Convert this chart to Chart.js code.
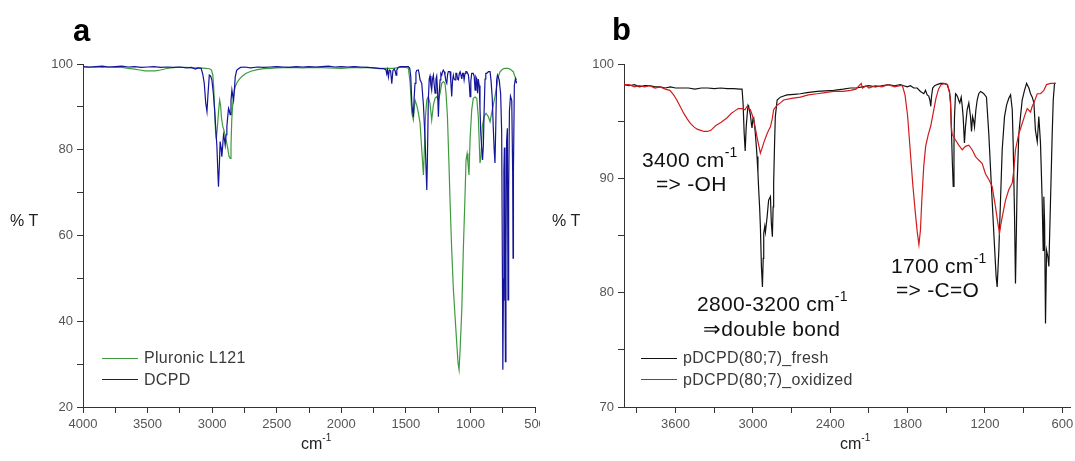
<!DOCTYPE html>
<html>
<head>
<meta charset="utf-8">
<script src="https://cdn.jsdelivr.net/npm/chart.js@4.4.1/dist/chart.umd.min.js"></script>
<style>
  html, body { margin: 0; padding: 0; background: #fff; }
  body { width: 1075px; height: 461px; position: relative; overflow: hidden;
         font-family: "Liberation Sans", Arial, sans-serif; }
  .panel { position: absolute; top: 0; height: 461px; overflow: hidden; }
  #pa { left: 0; width: 540px; }
  #pb { left: 540px; width: 535px; }
  canvas { display: block; }
  .t { position: absolute; white-space: nowrap; line-height: 1; color: #222; }
  .big { font-size: 31px; font-weight: bold; color: #000; }
  .ax { font-size: 16px; }
  .ann { font-size: 21px; color: #111; letter-spacing: 0.3px; }
  .leg { font-size: 16px; color: #3a3a3a; letter-spacing: 0.3px; }
  .sup { position: relative; font-size: 10px; top: -8px; }
  .ann .sup { font-size: 14px; top: -10px; }
  .line { position: absolute; height: 0; width: 36px; border-top: 1.2px solid; }
</style>
</head>
<body>
<div id="pa" class="panel"><canvas id="ca" width="560" height="461"></canvas></div>
<div id="pb" class="panel"><canvas id="cb" width="535" height="461"></canvas></div>

<div class="t big" style="left:73px;top:15px">a</div>
<div class="t big" style="left:612px;top:14px">b</div>
<div class="t ax" style="left:10px;top:213px">% T</div>
<div class="t ax" style="left:552px;top:213px">% T</div>
<div class="t ax" style="left:301px;top:436px">cm<span class="sup">-1</span></div>
<div class="t ax" style="left:840px;top:436px">cm<span class="sup">-1</span></div>

<div class="line" style="left:102px;top:358px;border-color:#3f9a3f"></div>
<div class="t leg" style="left:144px;top:350px">Pluronic L121</div>
<div class="line" style="left:102px;top:379px;border-color:#14149a"></div>
<div class="t leg" style="left:144px;top:372px">DCPD</div>

<div class="line" style="left:641px;top:358px;border-color:#111"></div>
<div class="t leg" style="left:683px;top:350px">pDCPD(80;7)_fresh</div>
<div class="line" style="left:641px;top:379px;border-color:#d01c1c"></div>
<div class="t leg" style="left:683px;top:372px">pDCPD(80;7)_oxidized</div>

<div class="t ann" style="left:642px;top:149px">3400 cm<span class="sup">-1</span></div>
<div class="t ann" style="left:656px;top:173px">=&gt; -OH</div>
<div class="t ann" style="left:697px;top:293px">2800-3200 cm<span class="sup">-1</span></div>
<div class="t ann" style="left:703px;top:318px">&rArr;double bond</div>
<div class="t ann" style="left:891px;top:255px">1700 cm<span class="sup">-1</span></div>
<div class="t ann" style="left:896px;top:279px">=&gt; -C=O</div>

<script>
// panel a ticks
const aXMajor = [4000, 3500, 3000, 2500, 2000, 1500, 1000, 500];
const aXMinor = [3750, 3250, 2750, 2250, 1750, 1250, 750];
const aYMajor = [20, 40, 60, 80, 100];
const aYMinor = [30, 50, 70, 90];
// panel b ticks
const bXMajor = [3600, 3000, 2400, 1800, 1200, 600];
const bXMinor = [3900, 3300, 2700, 2100, 1500, 900];
const bYMajor = [70, 80, 90, 100];
const bYMinor = [75, 85, 95];

// spectra: [wavenumber cm-1, %T]
const pluronic = [[4000,99.3],[3950,99.2],[3900,99.3],[3850,99.2],[3800,99.3],[3750,99.2],[3700,99.2],[3650,99.0],[3600,98.8],[3560,98.6],[3520,98.4],[3480,98.4],[3440,98.4],[3400,98.6],[3360,98.9],[3320,99.1],[3280,99.2],[3200,99.2],[3150,99.1],[3100,99.1],[3050,99.0],[3020,98.9],[3005,98.6],[2995,97.5],[2988,94.5],[2982,90],[2975,85],[2968,82.5],[2960,85],[2950,89],[2942,91.6],[2935,90.5],[2928,87.5],[2918,85.5],[2908,84.5],[2899,83.2],[2890,82],[2880,80.5],[2870,78.5],[2860,78],[2854,81],[2848,87],[2840,91],[2830,93.5],[2820,94.8],[2805,95.8],[2790,96.4],[2770,97.1],[2740,97.8],[2700,98.3],[2650,98.7],[2600,98.9],[2550,99.0],[2500,99.1],[2400,99.2],[2300,99.1],[2200,99.2],[2100,99.1],[2000,99.0],[1950,99.1],[1900,99.2],[1850,99.1],[1800,99.2],[1750,99.1],[1700,99.0],[1650,99.0],[1600,99.0],[1545,99.2],[1500,99.2],[1480,99.0],[1467,95.5],[1454,88.6],[1442,87.0],[1429,91.6],[1416,90.4],[1403,88.6],[1390,86.2],[1377,80.0],[1364,74.1],[1356,80.7],[1348,87.7],[1338,91.6],[1326,92.4],[1313,90.8],[1300,86.9],[1287,90.4],[1274,92.0],[1261,92.4],[1248,91.6],[1235,93.2],[1222,95.5],[1210,95.9],[1197,95.5],[1189,93.2],[1178,87.7],[1168,78.4],[1158,68.3],[1145,56.7],[1132,47.4],[1119,41.1],[1106,34.9],[1096,30.3],[1088,28.7],[1080,33.3],[1067,42.6],[1055,56.7],[1042,69.1],[1034,77.6],[1026,79.1],[1019,76.9],[1011,74.1],[1003,82.3],[990,89.3],[978,92.0],[964,92.3],[951,92.0],[939,87.7],[926,76.9],[918,78.4],[908,85.4],[895,87.7],[879,88.5],[861,87.7],[848,86.5],[836,88.5],[823,90.4],[810,92.4],[797,94.7],[784,97.0],[771,98.2],[750,98.8],[732,99.0],[710,99.0],[694,98.8],[668,98.2],[655,97.0],[642,96.3]];

const dcpd = [[4000,99.4],[3950,99.3],[3900,99.4],[3850,99.5],[3800,99.3],[3750,99.4],[3700,99.5],[3650,99.3],[3600,99.4],[3550,99.2],[3500,99.3],[3450,99.4],[3400,99.2],[3350,99.3],[3300,99.2],[3250,99.3],[3200,99.1],[3160,99.2],[3130,98.8],[3110,99.1],[3085,99.0],[3072,97.5],[3061,95.5],[3050,91],[3040,88.9],[3032,93],[3022,97.4],[3012,97.2],[3002,96.3],[2990,93],[2980,89],[2972,85],[2963,80.7],[2956,75],[2951,71.4],[2944,76.5],[2938,81.9],[2931,80.5],[2925,78.4],[2918,81],[2912,83.5],[2905,82.5],[2899,81.1],[2892,83.5],[2886,85.4],[2880,87.5],[2873,89.7],[2867,89.2],[2861,88.2],[2854,91.5],[2847,93.9],[2840,92.5],[2834,91.5],[2828,94],[2821,97],[2810,98.5],[2796,98.9],[2780,99.2],[2750,99.3],[2700,99.1],[2650,99.3],[2600,99.2],[2550,99.3],[2500,99.4],[2450,99.3],[2400,99.2],[2350,99.4],[2300,99.3],[2250,99.4],[2200,99.3],[2150,99.4],[2100,99.5],[2050,99.3],[2000,99.4],[1950,99.3],[1900,99.4],[1850,99.3],[1800,99.2],[1750,99.1],[1700,98.9],[1674,98.9],[1655,98.7],[1648,97.7],[1642,98.6],[1635,97.0],[1628,98.6],[1618,98.4],[1609,95.4],[1600,98.5],[1590,98.8],[1582,98.3],[1576,97.4],[1570,98.6],[1560,99.2],[1545,99.4],[1480,99.4],[1470,99.0],[1462,97],[1454,91],[1448,89],[1442,87.7],[1436,92],[1429,95.5],[1422,98],[1416,98.5],[1403,98.6],[1396,97.5],[1390,96.3],[1377,95.5],[1364,90.5],[1351,82.3],[1344,76],[1338,70.6],[1333,78],[1326,91.6],[1319,96.5],[1313,97.2],[1306,95],[1300,93.9],[1294,96.5],[1287,97.4],[1280,95],[1274,93.2],[1267,96.5],[1261,97.2],[1255,94],[1248,87.7],[1242,93],[1235,96.3],[1229,97.8],[1222,97.4],[1216,98.2],[1210,98.6],[1203,98.2],[1197,97.4],[1190,96],[1183,95.5],[1177,97.5],[1171,98.2],[1158,98.2],[1152,96],[1145,92.4],[1139,96],[1132,97.4],[1126,96.5],[1119,96.3],[1113,97.8],[1106,97.8],[1100,96.5],[1093,96.3],[1086,97.8],[1080,98.2],[1073,97.4],[1067,96.5],[1061,97.8],[1055,97.8],[1049,96.3],[1042,97.8],[1035,98.2],[1029,98.2],[1016,97.5],[1008,95],[1003,92.4],[997,96],[990,97.8],[978,97.8],[971,97.2],[964,93.9],[958,97],[951,96.5],[945,93.2],[939,96.5],[932,95],[926,89.7],[920,84],[913,80.7],[906,77.6],[900,81],[894,89],[887,96.5],[881,97.8],[874,97.8],[861,98.2],[848,98.2],[840,96],[831,92],[823,85],[816,80],[810,76.9],[804,85],[797,96.3],[790,97.4],[777,96.3],[766,93],[758,84],[752,50],[749,28.7],[745,45],[741,75],[737,80.5],[733,60],[729,30.6],[725,55],[720,82],[714,85],[709,45],[704,70],[698,89],[690,92.5],[680,91.5],[673,75],[670,54.7],[667,75],[660,95],[652,96.5],[642,95.5]];

const fresh = [[4000,98.2],[3960,98.1],[3920,98.2],[3880,98.0],[3840,98.1],[3800,98.1],[3760,98.0],[3720,98.0],[3680,97.9],[3640,98.0],[3600,97.9],[3550,97.9],[3500,97.9],[3450,97.8],[3400,97.9],[3350,97.9],[3300,97.85],[3250,97.9],[3200,97.85],[3150,97.85],[3100,97.8],[3084,97.8],[3076,96.5],[3068,94.0],[3060,92.4],[3052,94.5],[3045,95.5],[3038,96.4],[3033,96.3],[3026,95.9],[3020,95.6],[3012,94.8],[3007,94.4],[3000,95.2],[2994,95.3],[2987,94.6],[2981,93.9],[2974,92.9],[2968,91.9],[2961,90.5],[2955,89.0],[2948,87.5],[2942,85.8],[2934,82.3],[2926,80.5],[2920,83],[2916,85.2],[2908,85.8],[2903,85.3],[2896,86],[2890,86.6],[2878,88.1],[2864,88.4],[2857,86.1],[2849,84.9],[2843,87.5],[2839,89.6],[2832,93],[2826,95.4],[2812,96.85],[2787,97.1],[2761,97.2],[2735,97.3],[2680,97.35],[2632,97.4],[2580,97.5],[2502,97.6],[2440,97.65],[2373,97.7],[2300,97.8],[2243,97.9],[2200,97.9],[2150,98.0],[2100,98.1],[2050,98.0],[2000,98.1],[1950,98.2],[1900,98.1],[1856,98.2],[1830,98.1],[1803,98.0],[1778,98.1],[1752,97.9],[1726,97.9],[1700,97.6],[1674,97.4],[1661,97.7],[1648,97.3],[1636,97.2],[1626,96.8],[1620,96.3],[1614,97.2],[1605,97.9],[1590,98.1],[1571,98.2],[1545,98.3],[1519,98.3],[1493,98.2],[1475,97.6],[1467,96.8],[1459,93.9],[1453,91.5],[1446,89.3],[1440,93],[1436,95.4],[1428,97.4],[1420,97.3],[1411,97.1],[1403,96.8],[1395,96.6],[1384,97.1],[1376,96.3],[1369,95.4],[1359,93.1],[1351,94.5],[1338,96.0],[1325,96.6],[1312,95.4],[1304,94.1],[1296,95.4],[1287,95],[1281,94.5],[1270,96],[1260,96.85],[1248,97.4],[1234,97.6],[1221,97.5],[1209,97.4],[1188,97.1],[1170,93.9],[1151,89.6],[1131,85.2],[1113,81.4],[1105,80.5],[1092,83.7],[1079,88.1],[1066,92.5],[1048,95.4],[1032,96.4],[1015,97.0],[1001,97.3],[988,96.0],[981,93.1],[970,86.6],[963,80.8],[955,86],[950,89.6],[937,93.9],[924,95.4],[911,96.85],[893,97.7],[877,98.3],[859,97.9],[846,97.4],[833,97.1],[820,96.6],[808,94.2],[794,93.2],[782,95.4],[769,93.1],[756,88.1],[748,83.7],[743,88.4],[737,86.1],[730,77.3],[722,83.7],[711,83.1],[704,82.3],[691,88.1],[678,93.9],[670,96.85],[660,98.3],[652,98.3]];

const oxidized = [[4000,98.2],[3960,98.2],[3920,98.0],[3880,98.1],[3840,98.0],[3800,98.1],[3760,97.9],[3720,98.0],[3680,97.8],[3644,97.7],[3615,97.3],[3590,96.85],[3565,96.3],[3537,95.7],[3510,95.2],[3485,94.8],[3458,94.5],[3432,94.3],[3405,94.2],[3378,94.1],[3352,94.1],[3326,94.2],[3290,94.6],[3246,94.9],[3200,95.3],[3166,95.7],[3140,95.9],[3114,96.1],[3084,96.1],[3061,96.0],[3045,96.3],[3033,96.1],[3020,96.0],[3007,95.6],[2994,95.1],[2981,94.4],[2968,93.6],[2955,92.9],[2942,92.2],[2930,92.6],[2916,93.1],[2903,93.5],[2890,93.9],[2878,94.2],[2864,94.5],[2850,95.2],[2839,96.0],[2826,96.2],[2812,96.4],[2787,96.6],[2761,96.85],[2700,97.0],[2632,97.1],[2570,97.3],[2502,97.4],[2440,97.5],[2373,97.6],[2300,97.6],[2243,97.7],[2200,97.8],[2160,98.3],[2150,97.9],[2120,98.1],[2100,97.9],[2050,98.1],[2000,98.0],[1950,98.2],[1900,98.0],[1860,98.1],[1840,98.1],[1820,97.3],[1800,95.5],[1780,92.5],[1760,89.5],[1740,87],[1725,85.3],[1712,84.2],[1700,85.5],[1690,88],[1675,91],[1660,92.8],[1640,93.8],[1620,94.6],[1600,95.8],[1580,97],[1560,97.8],[1540,98.2],[1510,98.3],[1490,98.2],[1475,97.5],[1467,96.5],[1460,94.5],[1455,93.9],[1446,93.7],[1428,93.35],[1403,92.9],[1376,92.5],[1351,92.8],[1325,92.9],[1299,92.5],[1273,91.9],[1248,91.6],[1221,91.3],[1196,90.4],[1170,89.9],[1144,89.3],[1118,87.5],[1100,86.1],[1087,85.2],[1079,85.8],[1066,86.6],[1040,88.1],[1015,89.0],[988,89.6],[976,90.7],[963,92.5],[937,93.9],[911,94.8],[885,95.7],[872,96.1],[846,95.8],[833,96.3],[820,96.6],[794,97.4],[769,97.4],[743,97.7],[722,98.2],[691,98.3],[652,98.3]];

Chart.defaults.font.family = "'Liberation Sans', Arial, sans-serif";

const pts = s => s.map(([x, y]) => ({ x, y }));

function axis(opts) {
    const all = opts.major.concat(opts.minor).sort((a, b) => a - b);
    return {
        type: 'linear', min: opts.min, max: opts.max, reverse: !!opts.reverse,
        afterBuildTicks: s => { s.ticks = all.map(v => ({ value: v })); },
        afterFit: s => {
            if (opts.width) s.width = opts.width;
            if (opts.height) { s.height = opts.height; s.paddingLeft = 0; s.paddingRight = 0; }
        },
        border: { color: '#333', width: 1 },
        grid: { drawOnChartArea: false, drawTicks: true, tickLength: 6, color: '#333' },
        ticks: {
            autoSkip: false, maxRotation: 0, padding: opts.pad, color: '#555',
            font: { size: 13 },
            callback: v => opts.major.includes(v) ? String(v) : ''
        }
    };
}

function spectrum(id, sets, padRight, xa, ya) {
    const ctx = document.getElementById(id);
    return new Chart(ctx, {
        type: 'line',
        data: { datasets: sets.map(s => ({
            data: pts(s.data), borderColor: s.color, borderWidth: 1.2,
            pointRadius: 0, tension: 0, fill: false })) },
        options: {
            responsive: false, animation: false, events: [],
            layout: { padding: { top: 64, right: padRight, left: 0, bottom: 0 } },
            plugins: { legend: { display: false }, tooltip: { enabled: false } },
            scales: { x: axis(xa), y: axis(ya) }
        }
    });
}

spectrum('ca', [
    { data: dcpd, color: '#14149a' },
    { data: pluronic, color: '#3f9a3f' }
], 25,
    { min: 500, max: 4000, reverse: true, major: aXMajor, minor: aXMinor, height: 54, pad: 4 },
    { min: 20, max: 100, major: aYMajor, minor: aYMinor, width: 83, pad: 4 });

spectrum('cb', [
    { data: oxidized, color: '#d01c1c' },
    { data: fresh, color: '#111111' }
], 5,
    { min: 540, max: 4000, reverse: true, major: bXMajor, minor: bXMinor, height: 54, pad: 4 },
    { min: 70, max: 100, major: bYMajor, minor: bYMinor, width: 84, pad: 4 });
</script>
</body>
</html>
